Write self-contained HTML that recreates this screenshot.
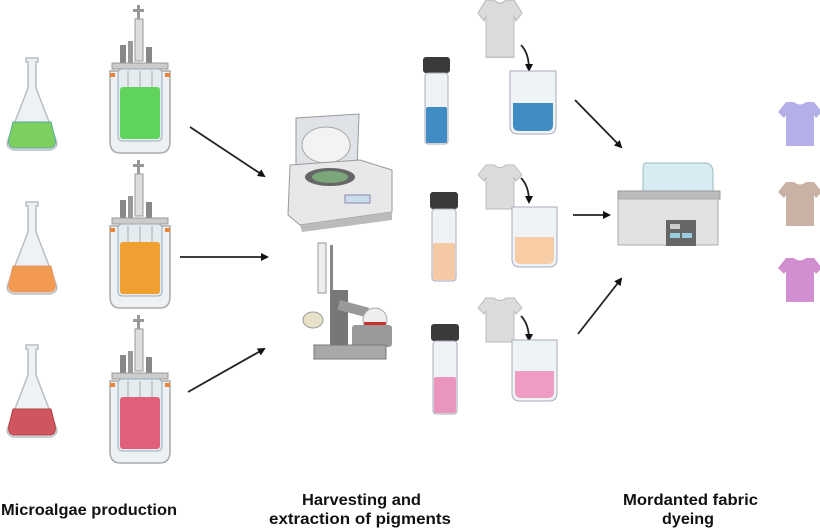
<!DOCTYPE html>
<html><head><meta charset="utf-8"><style>
html,body{margin:0;padding:0;background:#fff;}
svg{display:block}
text{font-family:"Liberation Sans",sans-serif;font-weight:bold;font-size:16px;fill:#111}
</style></head><body>
<svg width="820" height="531" viewBox="0 0 820 531" xmlns="http://www.w3.org/2000/svg">
<defs>
<marker id="ah" markerWidth="8" markerHeight="8" refX="6" refY="4" orient="auto" markerUnits="userSpaceOnUse">
<path d="M0,0 L8,4 L0,8 Z" fill="#111"/></marker>
<g id="flask">
<path d="M22,0 h12 v4 h-2 v26 L52,82 q3,8 -6,10 H10 q-9,-2 -6,-10 L24,30 V4 h-2 Z" fill="#eef2f4" stroke="#b8bec2" stroke-width="1.5"/>
</g>
<g id="reactor">
<rect x="27" y="0" width="3" height="14" fill="#999"/>
<rect x="23" y="4" width="11" height="3" fill="#999"/>
<rect x="25" y="14" width="8" height="42" fill="#ddd" stroke="#999"/>
<rect x="10" y="40" width="6" height="18" fill="#888"/>
<rect x="18" y="36" width="5" height="22" fill="#999"/>
<rect x="36" y="42" width="6" height="16" fill="#888"/>
<rect x="2" y="58" width="56" height="6" fill="#ccc" stroke="#999"/>
<path d="M0,66 h60 v70 q0,12 -10,12 H10 q-10,0 -10,-12 Z" fill="#eef1f3" stroke="#aaa" stroke-width="1.5"/>
<rect x="8" y="64" width="44" height="72" rx="4" fill="#e4ecf0" stroke="#9ab"/>
<line x1="18" y1="66" x2="18" y2="134" stroke="#aaa"/><line x1="30" y1="66" x2="30" y2="134" stroke="#aaa"/><line x1="42" y1="66" x2="42" y2="134" stroke="#aaa"/>
<rect x="0" y="68" width="5" height="4" fill="#e9823a"/><rect x="55" y="68" width="5" height="4" fill="#e9823a"/>
</g>
<g id="shirt">
<path d="M8,0 L16,0 q6,5 12,0 L36,0 L44,10 L38,16 L36,13 V44 H8 V13 L6,16 L0,10 Z"/>
</g>
</defs>

<g transform="translate(4,58)"><use href="#flask"/><path d="M9,64 H47 L51,80 q2,10 -6,10 H11 q-8,0 -6,-10 Z" fill="#7fcf5f" stroke="#5a9" stroke-width="1"/></g>
<g transform="translate(4,202)"><use href="#flask"/><path d="M9,64 H47 L51,80 q2,10 -6,10 H11 q-8,0 -6,-10 Z" fill="#f29a4f" stroke="#d97" stroke-width="1"/></g>
<g transform="translate(4,345)"><use href="#flask"/><path d="M9,64 H47 L51,80 q2,10 -6,10 H11 q-8,0 -6,-10 Z" fill="#cf5560" stroke="#a44" stroke-width="1"/></g>

<g transform="translate(110,5)"><use href="#reactor"/><rect x="10" y="82" width="40" height="52" rx="3" fill="#5fd35c"/></g>
<g transform="translate(110,160)"><use href="#reactor"/><rect x="10" y="82" width="40" height="52" rx="3" fill="#f0a030"/></g>
<g transform="translate(110,315)"><use href="#reactor"/><rect x="10" y="82" width="40" height="52" rx="3" fill="#e0607a"/></g>

<g stroke="#222" stroke-width="1.8" fill="none">
<line x1="190" y1="127" x2="264" y2="176" marker-end="url(#ah)"/>
<line x1="180" y1="257" x2="267" y2="257" marker-end="url(#ah)"/>
<line x1="188" y1="392" x2="264" y2="349" marker-end="url(#ah)"/>
<line x1="575" y1="100" x2="621" y2="147" marker-end="url(#ah)"/>
<line x1="573" y1="215" x2="609" y2="215" marker-end="url(#ah)"/>
<line x1="578" y1="334" x2="621" y2="279" marker-end="url(#ah)"/>
<path d="M521,45 q8,8 8,25" marker-end="url(#ah)"/>
<path d="M521,178 q8,8 8,24" marker-end="url(#ah)"/>
<path d="M521,316 q8,8 8,24" marker-end="url(#ah)"/>
</g>

<path d="M296,118 L359,114 L357,170 L296,170 Z" fill="#dfe2e6" stroke="#999"/>
<ellipse cx="326" cy="145" rx="24" ry="18" fill="#f3f3f3" stroke="#aaa"/>
<path d="M290,165 L360,160 L392,170 V212 L300,225 L288,215 Z" fill="#e8e8ea" stroke="#999"/>
<ellipse cx="330" cy="177" rx="25" ry="9" fill="#666"/>
<ellipse cx="330" cy="177" rx="18" ry="6" fill="#7aa67a"/>
<rect x="345" y="195" width="25" height="8" fill="#cde" stroke="#88a"/>
<path d="M300,225 L392,212 V220 L302,232 Z" fill="#bbb"/>

<rect x="318" y="243" width="8" height="50" fill="#eee" stroke="#999"/>
<rect x="330" y="245" width="3" height="50" fill="#888"/>
<ellipse cx="313" cy="320" rx="10" ry="8" fill="#e8e0c8" stroke="#999"/>
<rect x="330" y="290" width="18" height="55" fill="#777"/>
<rect x="340" y="300" width="30" height="10" fill="#999" transform="rotate(15 340 300)"/>
<circle cx="375" cy="320" r="12" fill="#eee" stroke="#aaa"/>
<path d="M364,322 a11,11 0 0 0 22,0 Z" fill="#c9302c"/>
<rect x="352" y="325" width="40" height="22" rx="3" fill="#999"/>
<rect x="314" y="345" width="72" height="14" fill="#a8a8a8" stroke="#777"/>

<g><rect x="423" y="57" width="27" height="16" rx="3" fill="#3a3a3a"/><rect x="425" y="73" width="23" height="71" rx="3" fill="#eef2f5" stroke="#aab"/><rect x="426" y="107" width="21" height="36" rx="2" fill="#3f8dc4"/></g>
<g><rect x="430" y="192" width="28" height="17" rx="3" fill="#3a3a3a"/><rect x="432" y="209" width="24" height="72" rx="3" fill="#eef2f5" stroke="#aab"/><rect x="433" y="243" width="22" height="37" rx="2" fill="#f5c9a3"/></g>
<g><rect x="431" y="324" width="28" height="17" rx="3" fill="#3a3a3a"/><rect x="433" y="341" width="24" height="73" rx="3" fill="#eef2f5" stroke="#aab"/><rect x="434" y="377" width="22" height="36" rx="2" fill="#e995be"/></g>

<g fill="#dcdcdc" stroke="#bbb"><use href="#shirt" transform="translate(478,0) scale(1,1.3)"/><use href="#shirt" transform="translate(478,165)"/><use href="#shirt" transform="translate(478,298)"/></g>

<g><path d="M510,71 h46 v55 q0,8 -8,8 h-30 q-8,0 -8,-8 Z" fill="#eef3f6" stroke="#aab"/><path d="M513,103 h40 v22 q0,6 -6,6 h-28 q-6,0 -6,-6 Z" fill="#3f8dc4"/></g>
<g><path d="M512,207 h45 v52 q0,8 -8,8 h-29 q-8,0 -8,-8 Z" fill="#eef3f6" stroke="#aab"/><path d="M515,237 h39 v21 q0,6 -6,6 h-27 q-6,0 -6,-6 Z" fill="#f8cda6"/></g>
<g><path d="M512,340 h45 v53 q0,8 -8,8 h-29 q-8,0 -8,-8 Z" fill="#eef3f6" stroke="#aab"/><path d="M515,371 h39 v21 q0,6 -6,6 h-27 q-6,0 -6,-6 Z" fill="#ee9cc4"/></g>

<path d="M645,163 h60 q8,0 8,10 v18 h-70 v-20 q0,-8 2,-8 Z" fill="#d6ebf2" stroke="#9bb"/>
<rect x="618" y="191" width="102" height="8" fill="#bbb" stroke="#999"/>
<rect x="618" y="199" width="100" height="46" fill="#e4e2e0" stroke="#aaa"/>
<rect x="666" y="220" width="30" height="26" fill="#666"/>
<rect x="670" y="224" width="10" height="5" fill="#ccc"/>
<rect x="670" y="233" width="10" height="5" fill="#9cd"/><rect x="682" y="233" width="10" height="5" fill="#9cd"/>

<use href="#shirt" fill="#b3b0e8" transform="translate(778,102)"/>
<use href="#shirt" fill="#c9b1a6" transform="translate(778,182)"/>
<use href="#shirt" fill="#d18fd2" transform="translate(778,258)"/>

<text x="1" y="515" textLength="176" lengthAdjust="spacingAndGlyphs">Microalgae production</text>
<text x="302" y="505" textLength="119" lengthAdjust="spacingAndGlyphs">Harvesting and</text>
<text x="269" y="524" textLength="182" lengthAdjust="spacingAndGlyphs">extraction of pigments</text>
<text x="623" y="505" textLength="135" lengthAdjust="spacingAndGlyphs">Mordanted fabric</text>
<text x="662" y="524" textLength="52" lengthAdjust="spacingAndGlyphs">dyeing</text>
</svg>
</body></html>
